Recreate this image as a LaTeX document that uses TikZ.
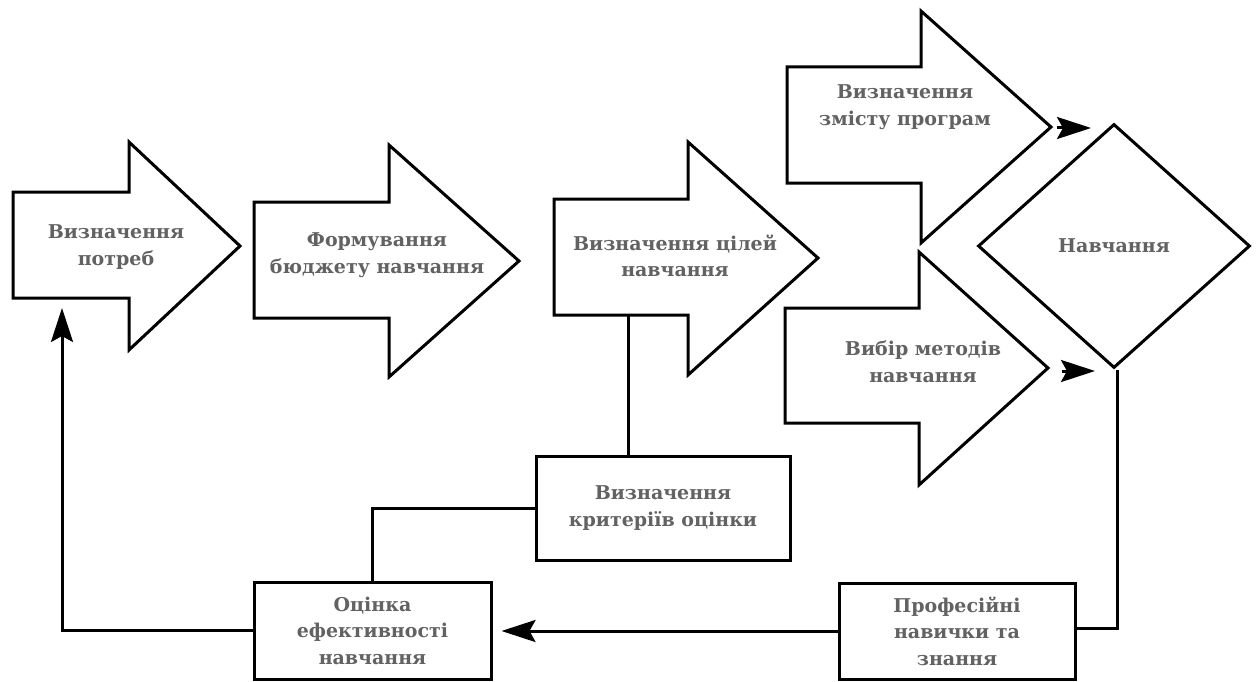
\documentclass[tikz,border=0pt]{standalone}
\usepackage{fontspec}
\setmainfont{DejaVu Serif}
\usetikzlibrary{arrows.meta,shapes.geometric}
\definecolor{txt}{RGB}{98,98,98}
\tikzset{
  bigarrow/.style={draw=black, line width=3pt, fill=white, line join=miter},
  arrowtext/.style={text=txt, font=\fontsize{19}{26.5}\selectfont\bfseries, align=center, inner sep=0pt},
  boxnode/.style={draw=black, line width=3pt, fill=white, text=txt, font=\fontsize{19}{26.5}\selectfont\bfseries, align=center, inner sep=0pt},
  conn/.style={draw=black, line width=3pt},
  tipstyle/.style={-{Stealth[length=34pt,width=22pt,inset=6pt]}}
}
\begin{document}
\begin{tikzpicture}[x=1pt,y=-1pt]
\useasboundingbox (0,0) rectangle (1258,682);
% big arrows
\draw[bigarrow] (13,192) -- (129,192) -- (129,142) -- (240,246) -- (129,350) -- (129,298) -- (13,298) -- cycle;
\node[arrowtext] (t1) at (116,247) {Визначення\\потреб};
\draw[bigarrow] (254,202) -- (389,202) -- (389,145) -- (519,261) -- (389,377) -- (389,318) -- (254,318) -- cycle;
\node[arrowtext] (t2) at (377,255) {Формування\\бюджету навчання};
\draw[bigarrow] (554,199) -- (688,199) -- (688,142) -- (818,258) -- (688,375) -- (688,315) -- (554,315) -- cycle;
\node[arrowtext] (t3) at (675,256) {Визначення цілей\\навчання};
\draw[bigarrow] (787,67) -- (921,67) -- (921,11) -- (1051,127) -- (921,243) -- (921,183) -- (787,183) -- cycle;
\node[arrowtext] (t4) at (905,107) {Визначення\\змісту програм};
\draw[bigarrow] (785,308) -- (919,308) -- (919,252) -- (1048,368) -- (919,485) -- (919,423) -- (785,423) -- cycle;
\node[arrowtext] (t5) at (923,362) {Вибір методів\\навчання};
% diamond
\node[diamond, draw=black, line width=3pt, fill=white, minimum width=272pt, minimum height=244pt, inner sep=0pt, text=txt, font=\fontsize{19}{26.5}\selectfont\bfseries] (learn) at (1114,246) {Навчання};
% boxes
\node[boxnode, minimum width=254pt, minimum height=104pt] (crit) at (663,508) {Визначення\\критеріїв оцінки};
\node[boxnode, minimum width=237pt, minimum height=97pt] (eval) at (372.5,630.5) {Оцінка\\ефективності\\навчання};
\node[boxnode, minimum width=236pt, minimum height=96pt] (prof) at (957,631) {Професійні\\навички та\\знання};
% coordinates
\coordinate (a3b) at (628,315);
\coordinate (a1up) at (62,308);
\coordinate (h1s) at (1057,128);
\coordinate (h1e) at (1091,128);
\coordinate (h2s) at (1062,371);
\coordinate (h2e) at (1095,371);
\coordinate (rc) at (1117,628);
% connectors
\draw[conn] (a3b) -- (a3b |- crit.north);
\draw[conn] (crit.west) -| (eval.north);
\draw[conn,tipstyle] (eval.west) -| (a1up);
\draw[conn,tipstyle,shorten >=9pt] (prof.west) -- (prof.west -| eval.east);
\draw[conn] (prof.east |- rc) -- (rc) -- (rc |- learn.south);
\draw[conn,tipstyle] (h1s) -- (h1e);
\draw[conn,tipstyle] (h2s) -- (h2e);
\end{tikzpicture}
\end{document}
